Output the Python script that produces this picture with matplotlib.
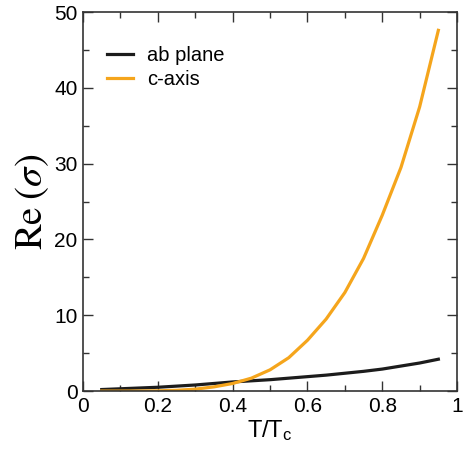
import numpy as np
import matplotlib
matplotlib.use('Agg')
import matplotlib.pyplot as plt
from matplotlib.ticker import MultipleLocator

# reduced temperature T/Tc
t = [0.05, 0.10, 0.15, 0.20, 0.25, 0.30, 0.35, 0.40, 0.45, 0.50,
     0.55, 0.60, 0.65, 0.70, 0.75, 0.80, 0.85, 0.90, 0.95]
# Re(sigma) in the ab plane
ab_plane = [0.2, 0.3, 0.4, 0.5, 0.65, 0.8, 1.0, 1.2, 1.35, 1.5,
            1.7, 1.9, 2.1, 2.35, 2.6, 2.9, 3.3, 3.7, 4.2]
# Re(sigma) along the c axis
c_axis = [0.0, 0.0, 0.01, 0.03, 0.1, 0.25, 0.55, 1.0, 1.7, 2.8,
          4.4, 6.7, 9.5, 13.0, 17.5, 23.2, 29.5, 37.5, 47.6]

plt.rcParams['font.family'] = 'Liberation Sans'
plt.rcParams['mathtext.fontset'] = 'stix'

fig = plt.figure(figsize=(4.64, 4.5), dpi=100)
ax = fig.add_axes([0.179, 0.131, 0.806, 0.842])

ax.plot(t, ab_plane, color='#1c1c1c', lw=2.3, label='ab plane')
ax.plot(t, c_axis, color='#f5a51c', lw=2.3, label='c-axis')

ax.set_xlim(0, 1)
ax.set_ylim(0, 50)
ax.xaxis.set_minor_locator(MultipleLocator(0.1))
ax.yaxis.set_major_locator(MultipleLocator(10))
ax.yaxis.set_minor_locator(MultipleLocator(5))
ax.set_xticks([0, 0.2, 0.4, 0.6, 0.8, 1])
ax.set_xticklabels(['0', '0.2', '0.4', '0.6', '0.8', '1'])
ax.tick_params(which='both', direction='in', top=True, right=True,
               labelsize=15, color='#333333', pad=4)
ax.tick_params(which='major', length=7, width=1)
ax.tick_params(which='minor', length=4, width=1)
for s in ax.spines.values():
    s.set_linewidth(1.2)
    s.set_color('#333333')

ax.set_xlabel(r'T/T$_\mathregular{c}$', fontsize=17, labelpad=2)
ax.set_ylabel(r'$\mathrm{Re}\;(\sigma)$', fontsize=28, labelpad=2)

ax.legend(loc='upper left', bbox_to_anchor=(0.042, 0.931), borderaxespad=0,
          frameon=False, fontsize=14.5, handlelength=1.3,
          handletextpad=0.7, labelspacing=0.25)

fig.savefig('out.png', dpi=100)
